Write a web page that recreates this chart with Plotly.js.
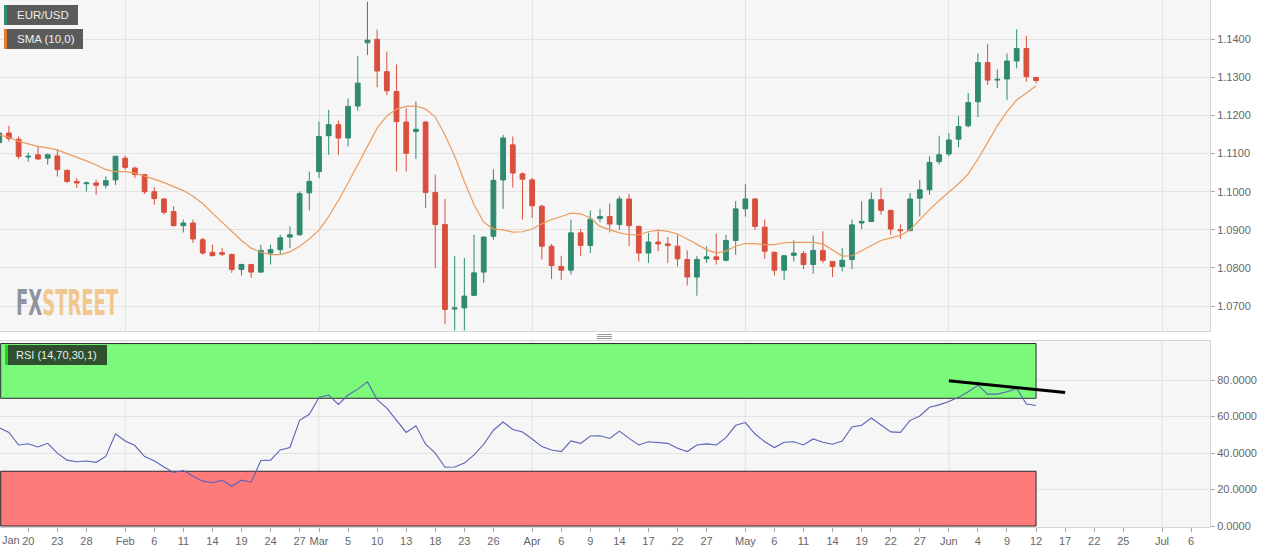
<!DOCTYPE html>
<html>
<head>
<meta charset="utf-8">
<script src="https://cdn.plot.ly/plotly-3.0.1.min.js"></script>
<style>
  html, body { margin: 0; padding: 0; background: #ffffff; }
  #chart { width: 1280px; height: 552px; }
  .annotation[data-index="0"] text { transform-box: fill-box; transform-origin: 0% 50%; transform: scaleX(0.5); }
</style>
</head>
<body>
<div id="chart"></div>
<script>
// ---- data (EUR/USD daily, trading days; first candle = index -3 = 15 Jan) ----
const firstDay = -3;
const open  = [1.1129,1.1154,1.1138,1.1091,1.1097,1.1088,1.1094,1.1056,1.1027,1.1021,1.1023,1.1017,1.1031,1.1088,1.1062,1.1045,1.1000,1.0981,1.0948,1.0911,1.0918,1.0874,1.0841,1.0840,1.0835,1.0796,1.0809,1.0789,1.0839,1.0848,1.0881,1.0887,1.0997,1.1053,1.1147,1.1176,1.1141,1.1225,1.1391,1.1400,1.1315,1.1263,1.1183,1.1158,1.1183,1.0998,1.0914,1.0692,1.0695,1.0728,1.0789,1.0883,1.1031,1.1123,1.1047,1.1031,1.0962,1.0857,1.0804,1.0794,1.0892,1.0859,1.0930,1.0935,1.0914,1.0981,1.0909,1.0839,1.0868,1.0863,1.0857,1.0822,1.0776,1.0824,1.0829,1.0820,1.0872,1.0955,1.0981,1.0907,1.0841,1.0794,1.0833,1.0838,1.0809,1.0846,1.0817,1.0804,1.0822,1.0918,1.0922,1.0979,1.0951,1.0900,1.0898,1.0983,1.1005,1.1079,1.1099,1.1138,1.1173,1.1236,1.1339,1.1293,1.1296,1.1343,1.1376,1.1300];
const high  = [1.1160,1.1173,1.1145,1.1103,1.1119,1.1100,1.1110,1.1059,1.1036,1.1027,1.1031,1.1040,1.1094,1.1094,1.1066,1.1047,1.1012,1.0983,1.0962,1.0927,1.0927,1.0879,1.0861,1.0852,1.0838,1.0811,1.0811,1.0861,1.0861,1.0887,1.0909,1.1001,1.1053,1.1184,1.1215,1.1187,1.1245,1.1356,1.1499,1.1426,1.1368,1.1334,1.1219,1.1237,1.1185,1.1045,1.0981,1.0831,1.0826,1.0887,1.0883,1.1059,1.1149,1.1145,1.1051,1.1036,1.0966,1.0863,1.0832,1.0927,1.0902,1.0951,1.0955,1.0969,1.0988,1.0995,1.0911,1.0892,1.0896,1.0881,1.0887,1.0846,1.0831,1.0857,1.0890,1.0887,1.0975,1.1020,1.0983,1.0927,1.0843,1.0834,1.0872,1.0844,1.0885,1.0896,1.0818,1.0852,1.0927,1.0975,1.0998,1.1010,1.0953,1.0914,1.0997,1.1031,1.1093,1.1147,1.1154,1.1199,1.1259,1.1363,1.1388,1.1321,1.1363,1.1426,1.1409,1.1301];
const low   = [1.1125,1.1132,1.1086,1.1079,1.1084,1.1071,1.1040,1.1023,1.1010,1.1001,1.0992,1.1008,1.1018,1.1058,1.1036,1.0994,1.0966,1.0940,1.0909,1.0893,1.0866,1.0835,1.0831,1.0831,1.0787,1.0780,1.0774,1.0787,1.0809,1.0835,1.0852,1.0885,1.0951,1.1036,1.1097,1.1097,1.1119,1.1212,1.1359,1.1274,1.1254,1.1053,1.1053,1.1086,1.0957,1.0800,1.0652,1.0636,1.0636,1.0726,1.0761,1.0874,1.0955,1.1011,1.0927,1.0931,1.0822,1.0771,1.0769,1.0783,1.0832,1.0839,1.0920,1.0893,1.0900,1.0857,1.0817,1.0813,1.0844,1.0813,1.0804,1.0754,1.0727,1.0813,1.0809,1.0817,1.0835,1.0935,1.0900,1.0824,1.0780,1.0768,1.0817,1.0797,1.0785,1.0813,1.0776,1.0791,1.0797,1.0902,1.0920,1.0940,1.0887,1.0876,1.0896,1.0935,1.0992,1.1071,1.1093,1.1117,1.1169,1.1196,1.1280,1.1272,1.1241,1.1324,1.1289,1.1285];
const close = [1.1154,1.1140,1.1093,1.1093,1.1086,1.1097,1.1058,1.1027,1.1023,1.1023,1.1017,1.1029,1.1093,1.1064,1.1045,1.1000,1.0982,1.0946,1.0911,1.0918,1.0876,1.0839,1.0832,1.0836,1.0796,1.0809,1.0789,1.0846,1.0848,1.0879,1.0887,1.0995,1.1027,1.1145,1.1176,1.1141,1.1224,1.1285,1.1398,1.1317,1.1265,1.1184,1.1101,1.1164,1.0998,1.0914,1.0691,1.0695,1.0726,1.0787,1.0881,1.1030,1.1141,1.1049,1.1033,1.0963,1.0857,1.0806,1.0794,1.0892,1.0859,1.0928,1.0935,1.0915,1.0981,1.0911,1.0839,1.0868,1.0863,1.0859,1.0824,1.0776,1.0822,1.0829,1.0822,1.0872,1.0955,1.0981,1.0909,1.0844,1.0794,1.0832,1.0839,1.0809,1.0846,1.0820,1.0804,1.0820,1.0913,1.0922,1.0979,1.0951,1.0902,1.0898,1.0981,1.1005,1.1077,1.1097,1.1136,1.1171,1.1234,1.1339,1.1293,1.1295,1.1343,1.1376,1.1302,1.1292];
const sma10 = [1.1149,1.1143,1.1132,1.1125,1.1119,1.1115,1.1110,1.1100,1.1091,1.1081,1.1070,1.1058,1.1053,1.1053,1.1049,1.1042,1.1033,1.1024,1.1014,1.1003,1.0988,1.0969,1.0944,1.0920,1.0896,1.0872,1.0852,1.0841,1.0835,1.0835,1.0842,1.0857,1.0876,1.0899,1.0935,1.0977,1.1023,1.1071,1.1123,1.1167,1.1199,1.1217,1.1224,1.1225,1.1217,1.1196,1.1149,1.1094,1.1027,1.0966,1.0920,1.0902,1.0900,1.0894,1.0895,1.0902,1.0916,1.0927,1.0935,1.0944,1.0942,1.0931,1.0909,1.0900,1.0892,1.0887,1.0887,1.0895,1.0899,1.0896,1.0889,1.0876,1.0861,1.0848,1.0839,1.0844,1.0857,1.0864,1.0864,1.0861,1.0861,1.0866,1.0867,1.0867,1.0867,1.0863,1.0846,1.0831,1.0832,1.0846,1.0860,1.0872,1.0879,1.0885,1.0900,1.0927,1.0953,1.0977,1.0999,1.1021,1.1047,1.1086,1.1129,1.1173,1.1210,1.1241,1.1259,1.1278];
const rsi14 = [53.8,51.3,44.4,45.1,43.3,45.3,39.9,36.1,35.2,35.6,34.9,38.1,50.5,46.6,44.1,38.1,35.8,32.3,29.3,30.4,27.3,24.6,23.7,25.0,21.9,25.1,24.0,35.9,36.1,41.7,43.0,57.9,61.2,70.5,71.8,66.6,71.8,75.0,79.0,69.3,64.6,57.9,51.3,54.9,44.8,39.9,32.2,32.3,34.5,39.0,44.8,52.5,57.0,52.9,51.5,47.7,43.5,41.7,40.8,46.6,45.3,49.3,49.5,48.0,52.0,48.0,44.4,46.2,45.9,45.3,42.6,40.8,44.4,45.0,44.4,48.4,55.2,56.7,50.4,46.2,43.0,45.9,46.2,44.4,47.7,45.9,44.8,46.6,54.3,55.2,59.2,55.6,51.6,51.3,57.9,60.3,65.1,66.4,68.2,70.5,73.6,77.2,72.3,72.3,73.6,75.4,66.9,66.0];
// hand-drawn RSI trend line (day index, RSI)
const trendX = [95, 107];
const trendY = [79.6, 73.2];
// x-axis tick labels (trading-day index from 20 Jan = 0)
const tickPos  = [0,3,6,10,13,16,19,22,25,28,30,33,36,39,42,45,48,52,55,58,61,64,67,70,74,77,80,83,86,89,92,95,98,101,104,107,110,113,117,120];
const tickText = ['20','23','28','Feb','6','11','14','19','24','27','Mar','5','10','13','18','23','26','Apr','6','9','14','17','22','27','May','6','11','14','19','22','27','Jun','4','9','12','17','22','25','Jul','6'];
const monthPos = [10,30,52,74,95,117];
const priceTicks = [1.07,1.08,1.09,1.10,1.11,1.12,1.13,1.14];
const rsiTicks = [0,20,40,60,80];
const rsiUpper = 70, rsiLower = 30;

// ---- layout helpers (pixel -> paper) ----
const PW = 1210, PH = 527;
const px = v => v / PW;
const py = v => (PH - v) / PH;
const days = open.map((_, k) => k + firstDay);
const lastDay = days[days.length - 1];

const FONT = 'Liberation Sans, Arial, sans-serif';
const GRID = '#e3e3e3';
const green = '#2f8a70', red = '#d94f3d';

const traces = [
  {
    type: 'candlestick', x: days, open: open, high: high, low: low, close: close,
    xaxis: 'x2', yaxis: 'y2',
    increasing: { line: { color: green, width: 1 }, fillcolor: green },
    decreasing: { line: { color: red, width: 1 }, fillcolor: red },
    whiskerwidth: 0, showlegend: false, hoverinfo: 'skip'
  },
  {
    type: 'scatter', mode: 'lines', x: days, y: sma10, xaxis: 'x2', yaxis: 'y2',
    line: { color: '#ec9a5c', width: 1.2 }, showlegend: false, hoverinfo: 'skip'
  },
  {
    type: 'scatter', mode: 'lines', x: days, y: rsi14, xaxis: 'x', yaxis: 'y',
    line: { color: '#5964b6', width: 1.1 }, showlegend: false, hoverinfo: 'skip'
  },
  {
    type: 'scatter', mode: 'lines', x: trendX, y: trendY, xaxis: 'x', yaxis: 'y',
    line: { color: '#000000', width: 3 }, showlegend: false, hoverinfo: 'skip', cliponaxis: false
  }
];

const shapes = [];
// month gridlines in RSI panel
monthPos.forEach(m => shapes.push({ type: 'line', xref: 'x', yref: 'y domain', x0: m, x1: m, y0: 0, y1: 1,
  line: { color: GRID, width: 1 }, layer: 'below' }));
// RSI zones
shapes.push({ type: 'rect', xref: 'x', yref: 'y', x0: -2.85, x1: lastDay, y0: rsiUpper, y1: 100,
  fillcolor: '#7bf97b', line: { color: '#2a2a2a', width: 1 }, layer: 'between' });
shapes.push({ type: 'rect', xref: 'x', yref: 'y', x0: -2.85, x1: lastDay, y0: 0, y1: rsiLower,
  fillcolor: '#ff7a7a', line: { color: '#2a2a2a', width: 1 }, layer: 'between' });
// legend boxes
function labelBox(x0, x1, y0, y1, bg, strip) {
  shapes.push({ type: 'rect', xref: 'paper', yref: 'paper', x0: px(x0), x1: px(x1), y0: py(y1), y1: py(y0),
    fillcolor: bg, line: { width: 0 }, layer: 'above' });
  shapes.push({ type: 'rect', xref: 'paper', yref: 'paper', x0: px(x0), x1: px(x0 + 3), y0: py(y1), y1: py(y0),
    fillcolor: strip, line: { width: 0 }, layer: 'above' });
}
labelBox(4, 78, 5, 25, '#5b5b5b', green);
labelBox(4, 83, 29, 49, '#5b5b5b', '#e57b28');
labelBox(5, 107, 345, 365, '#2f502f', '#1fd31f');
// panel splitter handle
[334.5, 336.5, 338.5].forEach(yv => shapes.push({ type: 'line', xref: 'paper', yref: 'paper',
  x0: px(597), x1: px(612), y0: py(yv), y1: py(yv), line: { color: '#9a9a9a', width: 1 } }));

const annotations = [
  { xref: 'paper', yref: 'paper', x: px(14), y: py(302), xanchor: 'left', yanchor: 'middle', showarrow: false,
    text: '<b><span style="color:#8f949d">FX</span><span style="color:#f2c78f">STREET</span></b>',
    font: { family: 'DejaVu Sans, sans-serif', size: 36 } },
  { xref: 'paper', yref: 'paper', x: px(15), y: py(15), xanchor: 'left', yanchor: 'middle', showarrow: false,
    text: 'EUR/USD', font: { family: FONT, size: 11.5, color: '#eeeeee' } },
  { xref: 'paper', yref: 'paper', x: px(15), y: py(39), xanchor: 'left', yanchor: 'middle', showarrow: false,
    text: 'SMA (10,0)', font: { family: FONT, size: 11.5, color: '#eeeeee' } },
  { xref: 'paper', yref: 'paper', x: px(14), y: py(355), xanchor: 'left', yanchor: 'middle', showarrow: false,
    text: 'RSI (14,70,30,1)', font: { family: FONT, size: 11, color: '#eeeeee' } },
  { xref: 'paper', yref: 'paper', x: 0, y: py(540), xanchor: 'left', yanchor: 'middle', showarrow: false,
    text: 'Jan', font: { family: FONT, size: 11, color: '#666666' } }
];

const axisCommon = { showline: true, linecolor: '#d6d6d6', linewidth: 1, mirror: true, zeroline: false, fixedrange: true };

const layout = {
  width: 1280, height: 552,
  margin: { l: 0, r: 70, t: 0, b: 25 },
  paper_bgcolor: '#ffffff', plot_bgcolor: '#f6f6f6',
  showlegend: false,
  font: { family: FONT, size: 11, color: '#666666' },
  xaxis: Object.assign({}, axisCommon, {
    domain: [0, 1], anchor: 'y', range: [-2.92, 121.95],
    tickmode: 'array', tickvals: tickPos, ticktext: tickText,
    ticks: 'outside', ticklen: 4, tickcolor: '#aaaaaa', showgrid: false,
    tickfont: { family: FONT, size: 11, color: '#666666' },
    rangeslider: { visible: false }
  }),
  yaxis: Object.assign({}, axisCommon, {
    domain: [0, py(341)], anchor: 'x', side: 'right', range: [-0.55, 101.4],
    tickmode: 'array', tickvals: rsiTicks, tickformat: '.4f',
    ticks: 'outside', ticklen: 4, tickcolor: '#aaaaaa', showgrid: true, gridcolor: GRID,
    tickfont: { family: FONT, size: 11, color: '#666666' }
  }),
  xaxis2: Object.assign({}, axisCommon, {
    domain: [0, 1], anchor: 'y2', matches: 'x', range: [-2.92, 121.95],
    tickmode: 'array', tickvals: monthPos, showticklabels: false, ticks: '',
    showgrid: true, gridcolor: GRID, rangeslider: { visible: false }
  }),
  yaxis2: Object.assign({}, axisCommon, {
    domain: [py(331), 1], anchor: 'x2', side: 'right', range: [1.06344, 1.15033],
    tickmode: 'array', tickvals: priceTicks, tickformat: '.4f',
    ticks: 'outside', ticklen: 4, tickcolor: '#aaaaaa', showgrid: true, gridcolor: GRID,
    tickfont: { family: FONT, size: 11, color: '#666666' }
  }),
  shapes: shapes,
  annotations: annotations
};

Plotly.newPlot('chart', traces, layout, { staticPlot: true, displayModeBar: false });
</script>
</body>
</html>
